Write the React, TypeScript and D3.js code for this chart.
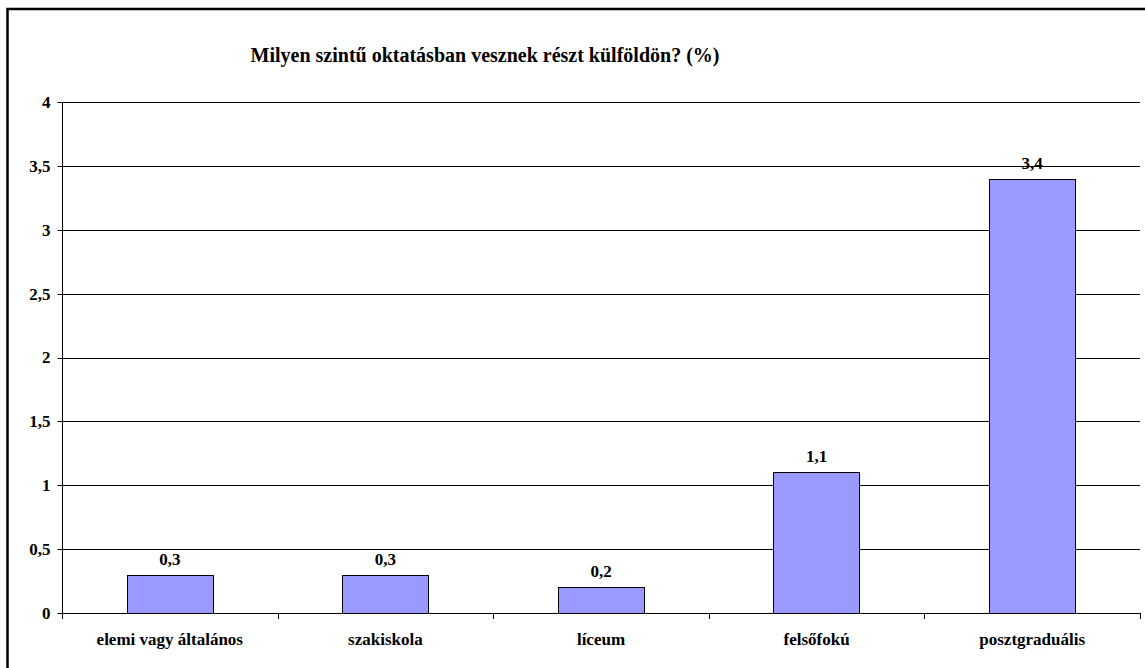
import React, { useEffect, useRef } from "react";
import * as d3 from "d3";

// chart data
const categories = ["elemi vagy általános", "szakiskola", "líceum", "felsőfokú", "posztgraduális"];
const values = [0.3, 0.3, 0.2, 1.1, 3.4];
const yTicks = [0, 0.5, 1, 1.5, 2, 2.5, 3, 3.5, 4];
const title = "Milyen szintű oktatásban vesznek részt külföldön? (%)";

const WIDTH = 1145;
const HEIGHT = 668;
const FONT = "Liberation Serif, Tinos, DejaVu Serif, serif";

const fmt = (v: number) => String(v).replace(".", ",");

export default function App(): React.ReactElement {
  const ref = useRef<SVGSVGElement | null>(null);

  useEffect(() => {
    document.body.style.margin = "0";

    const plotTop = 102;
    const plotLeft = 62;
    const plotRight = 1140;
    const plotBottom = 613;
    const labelSize = "17px";

    const x = d3.scaleBand<string>().domain(categories).range([plotLeft, plotRight]);
    const y = d3.scaleLinear().domain([0, 4]).range([plotBottom, plotTop]);

    const svg = d3.select(ref.current).attr("width", WIDTH).attr("height", HEIGHT);
    svg.selectAll("*").remove();

    // white background and outer frame
    svg.append("rect").attr("width", WIDTH).attr("height", HEIGHT).attr("fill", "#fff");
    svg
      .append("rect")
      .attr("x", 7.5)
      .attr("y", 9)
      .attr("width", WIDTH + 10)
      .attr("height", HEIGHT + 10)
      .attr("fill", "none")
      .attr("stroke", "#000")
      .attr("stroke-width", 2.5);

    // title
    svg
      .append("text")
      .attr("x", 485)
      .attr("y", 62)
      .attr("text-anchor", "middle")
      .style("font-family", FONT)
      .style("font-weight", "bold")
      .style("font-size", "20px")
      .text(title);

    // gridlines
    svg
      .append("g")
      .selectAll("line")
      .data(yTicks.filter((t) => t > 0))
      .join("line")
      .attr("x1", plotLeft)
      .attr("x2", plotRight)
      .attr("y1", (d) => Math.round(y(d)) + 0.5)
      .attr("y2", (d) => Math.round(y(d)) + 0.5)
      .attr("stroke", "#000")
      .attr("stroke-width", 1);

    // y axis
    const yAxis = svg.append("g").attr("transform", `translate(${plotLeft + 0.5},0)`);
    yAxis.append("line").attr("y1", plotTop).attr("y2", plotBottom).attr("stroke", "#000");
    yAxis
      .selectAll("line.tick")
      .data(yTicks)
      .join("line")
      .attr("class", "tick")
      .attr("x1", -5)
      .attr("x2", 0)
      .attr("y1", (d) => Math.round(y(d)) + 0.5)
      .attr("y2", (d) => Math.round(y(d)) + 0.5)
      .attr("stroke", "#000");
    yAxis
      .selectAll("text")
      .data(yTicks)
      .join("text")
      .attr("x", -12)
      .attr("y", (d) => y(d))
      .attr("dy", "0.35em")
      .attr("text-anchor", "end")
      .style("font-family", FONT)
      .style("font-weight", "bold")
      .style("font-size", labelSize)
      .text((d) => fmt(d));

    // bars
    const barW = x.bandwidth() / 2.5;
    svg
      .append("g")
      .selectAll("rect")
      .data(values)
      .join("rect")
      .attr("x", (d, i) => Math.round((x(categories[i]) ?? 0) + (x.bandwidth() - barW) / 2) + 0.5)
      .attr("y", (d) => Math.round(y(d)) + 0.5)
      .attr("width", Math.round(barW))
      .attr("height", (d) => plotBottom - Math.round(y(d)))
      .attr("fill", "#9999FF")
      .attr("stroke", "#000")
      .attr("stroke-width", 1);

    // value labels
    svg
      .append("g")
      .selectAll("text")
      .data(values)
      .join("text")
      .attr("x", (d, i) => (x(categories[i]) ?? 0) + x.bandwidth() / 2)
      .attr("y", (d) => y(d) - 10)
      .attr("text-anchor", "middle")
      .style("font-family", FONT)
      .style("font-weight", "bold")
      .style("font-size", labelSize)
      .text((d) => fmt(d));

    // x axis
    const xAxis = svg.append("g");
    xAxis
      .append("line")
      .attr("x1", plotLeft)
      .attr("x2", plotRight)
      .attr("y1", plotBottom + 0.5)
      .attr("y2", plotBottom + 0.5)
      .attr("stroke", "#000");
    const bounds = categories.map((c) => x(c) ?? 0).concat([plotRight]);
    xAxis
      .selectAll("line.tick")
      .data(bounds)
      .join("line")
      .attr("class", "tick")
      .attr("x1", (d) => Math.round(d) + 0.5)
      .attr("x2", (d) => Math.round(d) + 0.5)
      .attr("y1", plotBottom)
      .attr("y2", plotBottom + 6)
      .attr("stroke", "#000");
    xAxis
      .selectAll("text")
      .data(categories)
      .join("text")
      .attr("x", (d) => (x(d) ?? 0) + x.bandwidth() / 2)
      .attr("y", 645)
      .attr("text-anchor", "middle")
      .style("font-family", FONT)
      .style("font-weight", "bold")
      .style("font-size", labelSize)
      .text((d) => d);
  }, []);

  return (
    <div id="BarChart">
      <svg ref={ref} style={{ display: "block" }}></svg>
    </div>
  );
}
